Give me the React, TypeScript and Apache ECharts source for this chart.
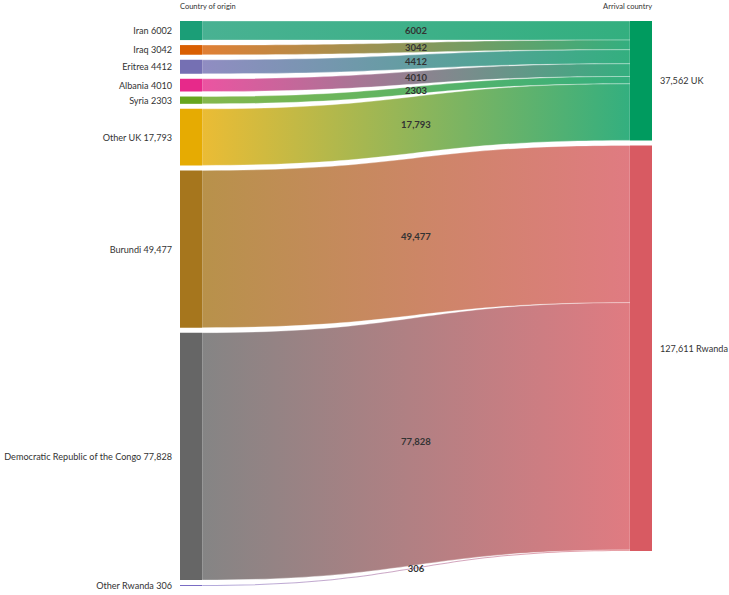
import React, { useEffect, useRef } from "react";
import * as echarts from "echarts";

const originNames = ["Iran", "Iraq", "Eritrea", "Albania", "Syria", "Other UK", "Burundi", "Democratic Republic of the Congo", "Other Rwanda"];
const originValues = [6002, 3042, 4412, 4010, 2303, 17793, 49477, 77828, 306];
const originTargets = ["UK", "UK", "UK", "UK", "UK", "UK", "Rwanda", "Rwanda", "Rwanda"];
const originColors = ["#1b9e77", "#d95f02", "#7570b3", "#e7298a", "#66a61e", "#e6ab02", "#a6761d", "#666666", "#7a6cc4"];
const arrivalNames = ["UK", "Rwanda"];
const arrivalColors = ["#009b5f", "#d85a62"];
const headerLeft = "Country of origin";
const headerRight = "Arrival country";

const fmt = (v: number) => (v >= 10000 ? v.toLocaleString("en-US") : String(v));

export default function App() {
  const ref = useRef<HTMLDivElement>(null);
  useEffect(() => {
    if (!ref.current) return;
    const chart = echarts.init(ref.current, null, { renderer: "svg" });
    const arrivalTotals = arrivalNames.map((a) =>
      originValues.reduce((s, v, i) => (originTargets[i] === a ? s + v : s), 0)
    );
    const font = "Lato, sans-serif";
    const nodes = [
      ...originNames.map((n, i) => ({
        name: n,
        depth: 0,
        itemStyle: { color: originColors[i] },
        label: { position: "left", formatter: `${n} ${fmt(originValues[i])}` },
      })),
      ...arrivalNames.map((n, i) => ({
        name: n,
        depth: 1,
        itemStyle: { color: arrivalColors[i] },
        label: { position: "right", formatter: `${fmt(arrivalTotals[i])} ${n}` },
      })),
    ];
    const links = originNames.map((n, i) => ({ source: n, target: originTargets[i], value: originValues[i] }));
    chart.setOption({
      animation: false,
      textStyle: { fontFamily: font },
      graphic: [
        { type: "text", left: 180, top: 2, style: { text: headerLeft, fontSize: 7.5, fill: "#333", fontFamily: font } },
        { type: "text", right: 77, top: 2, style: { text: headerRight, fontSize: 7.5, fill: "#333", fontFamily: font } },
      ],
      series: [
        {
          type: "sankey",
          left: 180,
          right: 77,
          top: 21,
          bottom: 9,
          nodeWidth: 22,
          nodeGap: 5,
          layoutIterations: 0,
          draggable: false,
          emphasis: { disabled: true },
          data: nodes,
          links,
          itemStyle: { borderWidth: 0 },
          label: { show: true, fontSize: 9.1, color: "#333", distance: 8, fontFamily: font },
          edgeLabel: {
            show: true,
            fontSize: 9.5,
            fontWeight: "bold",
            color: "#333",
            fontFamily: font,
            formatter: (p: any) => fmt(p.value),
          },
          lineStyle: { color: "gradient", opacity: 0.8, curveness: 0.5, borderColor: "#fff", borderWidth: 0.4 },
        },
      ],
    });
    return () => chart.dispose();
  }, []);
  return <div ref={ref} style={{ width: 729, height: 595, position: "absolute", left: 0, top: 0 }} />;
}
